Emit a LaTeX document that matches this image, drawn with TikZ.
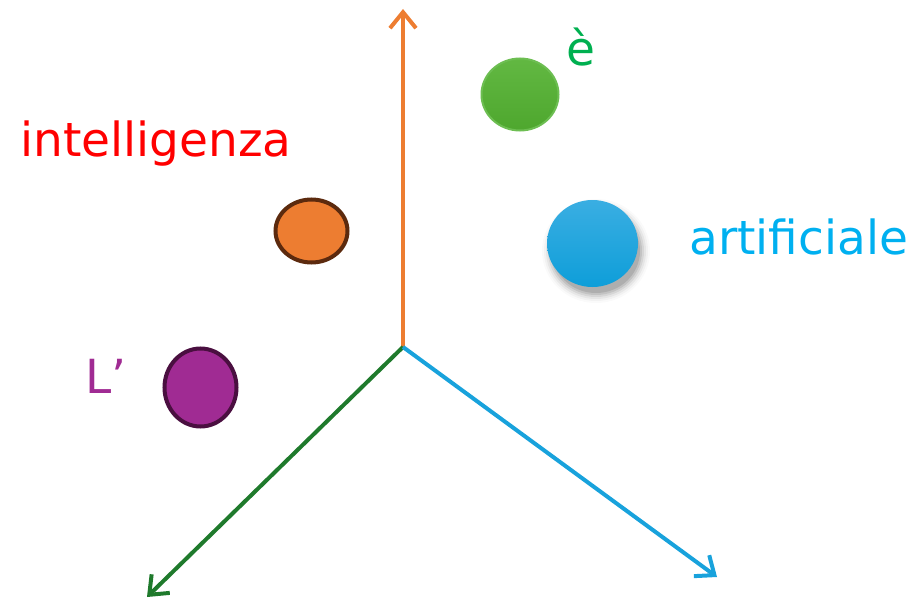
\documentclass[tikz,border=0pt]{standalone}
\usepackage{fontspec}
\setmainfont{DejaVu Sans}
\usetikzlibrary{arrows.meta,shapes.geometric}
\definecolor{axorange}{HTML}{ED7D31}
\definecolor{axgreen}{HTML}{1F7A2C}
\definecolor{axblue}{HTML}{18A2DC}
\definecolor{balorange}{HTML}{ED7D31}
\definecolor{balorangeb}{HTML}{5C2A0E}
\definecolor{balpurple}{HTML}{A02B93}
\definecolor{balpurpleb}{HTML}{4A0F40}
\definecolor{balgreen}{HTML}{4EA72E}
\definecolor{balgreent}{HTML}{62B842}
\definecolor{balgreenb}{HTML}{6DBE52}
\definecolor{balblue}{HTML}{0E9ED9}
\definecolor{balbluet}{HTML}{3AAEE2}
\definecolor{txred}{HTML}{FF0000}
\definecolor{txgreen}{HTML}{00B050}
\definecolor{txblue}{HTML}{00B0F0}
\definecolor{txpurple}{HTML}{A02B93}
\tikzset{
  axis/.style={line width=4pt, -{Straight Barb[length=16pt, width=26pt]}},
  word/.style={anchor=base west, inner sep=0pt, font=\fontsize{47}{50}\selectfont},
  ball/.style={ellipse, inner sep=0pt},
}
\begin{document}
\begin{tikzpicture}[x=1pt,y=-1pt]
\useasboundingbox (0,0) rectangle (913,599);
\coordinate (o) at (403,347);
\coordinate (zt) at (403,9);
\coordinate (xt) at (147,597);
\coordinate (yt) at (717,577);
\draw[axis, axorange] (o) -- (zt);
\draw[axis, axgreen] (o) -- (xt);
\draw[axis, axblue] (o) -- (yt);
% balls
\node[ball, fill=balorange, draw=balorangeb, line width=4pt, minimum width=72pt, minimum height=63pt] (bo) at (311.5,231) {};
\node[ball, fill=balpurple, draw=balpurpleb, line width=4pt, minimum width=72pt, minimum height=78pt] (bp) at (200.5,387.5) {};
\node[ball, top color=balgreent, bottom color=balgreen, draw=balgreenb, line width=2pt, minimum width=77pt, minimum height=72pt] (bg) at (520,94.5) {};
% shadow of blue ball
\foreach \r/\o in {54/0.02,52/0.03,50/0.05,48/0.07,46/0.09,44/0.11}{
  \fill[black, opacity=\o] (596,251) ellipse [x radius=\r, y radius=\r-2];
}
\node[ball, top color=balbluet, bottom color=balblue, minimum width=91pt, minimum height=87pt] (bb) at (592.5,243.5) {};
% words
\node[word, text=txred] (w1) at (20,157) {intelligenza};
\node[word, text=txgreen] (w2) at (566,66) {è};
\node[word, text=txblue] (w3) at (689,254) {artificiale};
\node[word, text=txpurple] (w4) at (85,393) {L’};
\end{tikzpicture}
\end{document}
